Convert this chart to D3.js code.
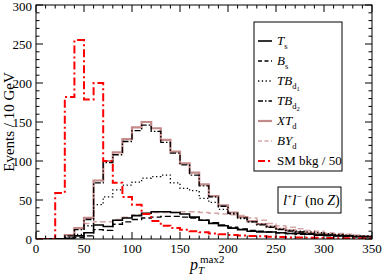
<!DOCTYPE html>
<html><head><meta charset="utf-8">
<script src="https://cdn.jsdelivr.net/npm/d3@7"></script>
<style>body{margin:0;background:#fff} text{font-family:"Liberation Serif","Times New Roman",serif;fill:#000}</style>
</head><body><svg id="c" width="382" height="278"></svg>
<script>
const bins = [0,10,20,30,40,50,60,70,80,90,100,110,120,130,140,150,160,170,180,190,200,210,220,230,240,250,260,270,280,290,300,310,320,330,340];
const Ts   = [0,0,0,1,4,8,18,16,24,27,30,33,35,35,34,32,28,24,20,17,14,12,10,9,9,8,7,7,6,5,5,4,4,3,3];
const Bs   = [0,0,0,0,2,4,12,11,19,22,25,27,28,29,29,28,27,24,21,18,15,13,11,10,9,8,7,6,6,5,4,4,3,3,3];
const TBd1 = [0,0,0,2,6,17,44,54,63,69,73,78,80,82,72,65,62,52,47,38,32,26,22,19,16,13,11,10,9,8,7,6,5,4,4];
const TBd2 = [0,0,0,4,12,25,72,98,108,125,139,146,138,124,110,95,82,68,54,42,33,27,22,18,15,12,10,9,7,6,5,5,4,3,3];
const XTd  = [0,0,0,5,14,27,75,100,111,128,143,150,142,127,112,97,85,70,55,43,34,28,23,19,16,13,11,9,8,7,6,5,4,3.5,3];
const BYd  = [0,0,0,4,13,20,22,22,25,28,31,33,34,34,34,35,35,34,33,32,31,30,27,24,20,17,15,13,11,10,8,7,6,5,4];
const SM50 = [0,0,59,182,255,179,200,100,72,54,44,32,23,17,14,12,10,8.5,7,6,5,4.5,4,3.5,3,2.5,2,2,1.5,1.5,1.2,1,1,0.8,0.7];
const xMajor = [0,50,100,150,200,250,300,350];
const yMajor = [0,50,100,150,200,250,300];

const svg = d3.select("#c");
const x = d3.scaleLinear().domain([0,350]).range([36,372]);
const y = d3.scaleLinear().domain([0,300]).range([239,5]);
const binW = 10;

svg.append("clipPath").attr("id","clip").append("rect")
  .attr("x",36).attr("y",5).attr("width",336).attr("height",234);

const series = [
  {name:"BYd", v:BYd, color:"#d4a8a8", w:1.5, dash:"6,3", ldash:"4,2.5"},
  {name:"XTd", v:XTd, color:"#c48a8a", w:2.2, dash:null, ldash:null},
  {name:"Ts",  v:Ts,  color:"#000", w:1.6, dash:null, ldash:null},
  {name:"Bs",  v:Bs,  color:"#000", w:1.4, dash:"6,3", ldash:"4,2.5"},
  {name:"TBd1",v:TBd1,color:"#000", w:1.3, dash:"1.3,2.5", ldash:"1.3,2.5"},
  {name:"TBd2",v:TBd2,color:"#000", w:1.3, dash:"6,2,1.5,2", ldash:"5,2,1.5,2"},
  {name:"SM",  v:SM50,color:"#ff0000", w:2, dash:"8,3,2,3", ldash:"7,3,2,3"}
];
const line = d3.line().x(d=>x(d[0])).y(d=>y(d[1])).curve(d3.curveStepAfter);
const g = svg.append("g").attr("clip-path","url(#clip)");
series.forEach(s=>{
  const pts = bins.map((b,i)=>[b,s.v[i]]);
  pts.push([bins[bins.length-1]+binW, s.v[s.v.length-1]]);
  g.append("path").attr("d",line(pts)).attr("fill","none")
   .attr("stroke",s.color).attr("stroke-width",s.w)
   .attr("stroke-dasharray",s.dash);
});

// frame
svg.append("rect").attr("x",36).attr("y",5).attr("width",336).attr("height",234)
  .attr("fill","none").attr("stroke","#000").attr("stroke-width",1);

// ticks
const tk = svg.append("g").attr("stroke","#000").attr("stroke-width",1);
const xMinor = d3.range(0,351,10), yMinor = d3.range(0,301,10);
xMinor.forEach(v=>{
  const L = v%50===0?7:3.5;
  tk.append("line").attr("x1",x(v)).attr("x2",x(v)).attr("y1",239).attr("y2",239-L);
  tk.append("line").attr("x1",x(v)).attr("x2",x(v)).attr("y1",5).attr("y2",5+L);
});
yMinor.forEach(v=>{
  const L = v%50===0?7:3.5;
  tk.append("line").attr("y1",y(v)).attr("y2",y(v)).attr("x1",36).attr("x2",36+L);
  tk.append("line").attr("y1",y(v)).attr("y2",y(v)).attr("x1",372).attr("x2",372-L);
});
xMajor.forEach(v=>{
  svg.append("text").attr("x",x(v)).attr("y",253).attr("text-anchor","middle")
    .attr("font-size",13).text(v);
});
yMajor.forEach(v=>{
  svg.append("text").attr("x",32).attr("y",Math.max(y(v)+4.5,10.5)).attr("text-anchor","end")
    .attr("font-size",13).text(v);
});

// axis titles
svg.append("text").attr("transform","translate(14,122) rotate(-90)")
  .attr("text-anchor","middle").attr("font-size",15).text("Events / 10 GeV");
const xt = svg.append("text").attr("x",190).attr("y",270).attr("font-size",16);
xt.append("tspan").attr("font-style","italic").text("p");
xt.append("tspan").attr("font-style","italic").attr("font-size",11).attr("dy",4).text("T");
svg.append("text").attr("x",200).attr("y",263).attr("font-size",11).text("max2");

// legend
svg.append("rect").attr("x",254).attr("y",22).attr("width",88).attr("height",149)
  .attr("fill","#fff").attr("stroke","#000").attr("stroke-width",1);
const legItems = [
  {s:series[2], main:"T", sub:"s", it:true},
  {s:series[3], main:"B", sub:"s", it:true},
  {s:series[4], main:"TB", sub:"d", sub2:"1", it:true},
  {s:series[5], main:"TB", sub:"d", sub2:"2", it:true},
  {s:series[1], main:"XT", sub:"d", it:true},
  {s:series[0], main:"BY", sub:"d", it:true},
  {s:series[6], main:"SM bkg / 50", it:false}
];
legItems.forEach((d,i)=>{
  const yy = 41 + i*20;
  svg.append("line").attr("x1",258).attr("x2",272).attr("y1",yy).attr("y2",yy)
    .attr("stroke",d.s.color).attr("stroke-width",d.s.w)
    .attr("stroke-dasharray",d.s.ldash);
  const t = svg.append("text").attr("x",277).attr("y",yy+4).attr("font-size",13);
  t.append("tspan").attr("font-style",d.it?"italic":"normal").text(d.main);
  if(d.sub){
    t.append("tspan").attr("font-size",8.5).attr("dy",4).text(d.sub);
    if(d.sub2) t.append("tspan").attr("font-size",6.5).attr("dy",2).text(d.sub2);
  }
});

// annotation box
svg.append("rect").attr("x",278).attr("y",187).attr("width",63).attr("height",26)
  .attr("fill","#fff").attr("stroke","#000").attr("stroke-width",1);
const an = svg.append("text").attr("x",283).attr("y",205).attr("font-size",15);
an.append("tspan").attr("font-style","italic").text("l");
an.append("tspan").attr("font-size",9).attr("dy",-6).text("+");
an.append("tspan").attr("font-style","italic").attr("dy",6).text("l");
an.append("tspan").attr("font-size",9).attr("dy",-6).text("\u2212");
an.append("tspan").attr("dy",6).attr("font-size",14).text(" (no ");
an.append("tspan").attr("font-style","italic").attr("font-size",14).text("Z");
an.append("tspan").attr("font-size",14).text(")");
</script></body></html>
